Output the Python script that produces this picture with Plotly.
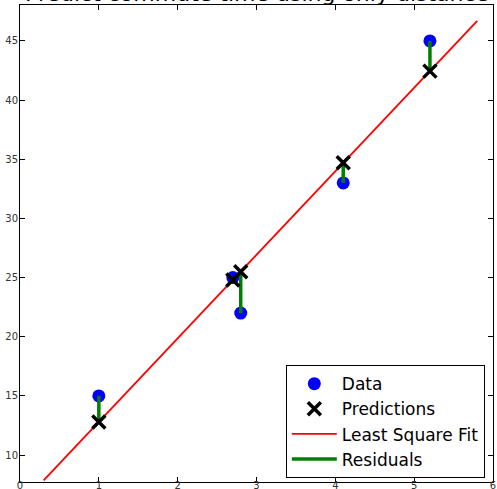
import plotly.graph_objects as go

distance = [1.0, 2.7, 2.8, 4.1, 5.2]
commute = [15.0, 25.0, 22.0, 33.0, 45.0]
predicted = [12.8, 24.8, 25.5, 34.7, 42.45]
fit_x = [0.3, 5.8]
fit_y = [7.86, 46.7]
x_ticks = [0, 1, 2, 3, 4, 5, 6]
y_ticks = [10, 15, 20, 25, 30, 35, 40, 45]
title_text = "Predict commute time using only distance"

res_x, res_y = [], []
for xv, a, b in zip(distance, commute, predicted):
    res_x += [xv, xv, None]
    res_y += [a, b, None]

fig = go.Figure()
fig.add_trace(go.Scatter(x=fit_x, y=fit_y, mode="lines", name="Least Square Fit",
                         line=dict(color="#ff0000", width=1.8), legendrank=3))
fig.add_trace(go.Scatter(x=distance, y=commute, mode="markers", name="Data",
                         marker=dict(color="#0000ff", size=13, symbol="circle",
                                     line=dict(width=0)), legendrank=1))
fig.add_trace(go.Scatter(x=res_x, y=res_y, mode="lines", name="Residuals",
                         line=dict(color="#008000", width=3.5), legendrank=4))
fig.add_trace(go.Scatter(x=distance, y=predicted, mode="markers", name="Predictions",
                         marker=dict(color="black", size=13, symbol="x-thin",
                                     line=dict(width=3.5, color="black")), legendrank=2))

axis_common = dict(showgrid=False, zeroline=False, showline=True, linecolor="black",
                   linewidth=1, mirror="ticks", ticks="inside", ticklen=5,
                   tickcolor="black", automargin=False,
                   tickfont=dict(size=10, color="#333333", family="DejaVu Sans"))
fig.update_xaxes(range=[0, 6], tickvals=x_ticks, ticklabelstandoff=-6, **axis_common)
fig.update_yaxes(range=[7.72, 48.04], tickvals=y_ticks, ticklabelstandoff=-1, **axis_common)

fig.add_annotation(text=title_text, xref="paper", yref="paper", x=0.5, y=1,
                   xanchor="center", yanchor="bottom", yshift=-3, showarrow=False,
                   font=dict(size=22, family="DejaVu Sans", color="black"))

fig.update_layout(
    width=497, height=489,
    margin=dict(l=20, r=4, t=5, b=7),
    plot_bgcolor="white", paper_bgcolor="white",
    showlegend=True,
    legend=dict(x=0.562, y=0.245, xanchor="left", yanchor="top",
                bordercolor="black", borderwidth=1, bgcolor="white",
                itemwidth=45,
                font=dict(size=17, family="DejaVu Sans", color="black"),
                tracegroupgap=0),
)
fig.write_html("out.html", config={"displayModeBar": False},
               post_script="document.body.style.margin='0';document.body.style.overflow='hidden';")
